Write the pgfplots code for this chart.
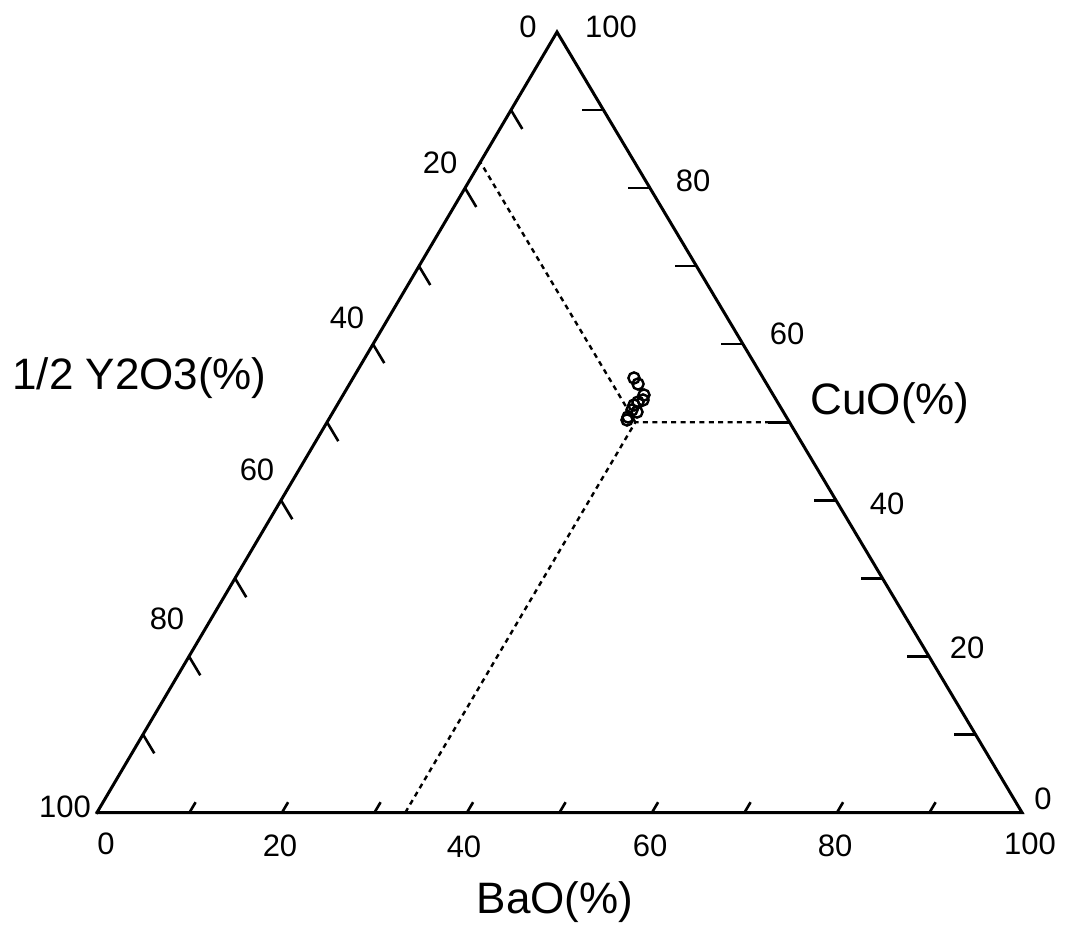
\documentclass[border=0pt]{standalone}
\usepackage{pgfplots}
\usepackage{pgfplotstable}
\pgfplotsset{compat=1.18}
\usepackage{fontspec}
\setmainfont{Liberation Sans}
\newcommand\ticklab{\fontsize{15.5pt}{18pt}\selectfont}
\newcommand\titlefont{\fontsize{22pt}{26pt}\selectfont}

% ternary compositions: b = BaO(%), c = CuO(%), 1/2 Y2O3 = 100-b-c
\pgfplotstableread[row sep=\\]{
b c\\
30.37 55.67\\
31.19 54.90\\
32.53 53.49\\
32.75 52.85\\
32.33 52.59\\
32.09 52.21\\
32.19 51.57\\
32.21 50.67\\
32.29 50.29\\
32.86 51.31\\
}\samples

\pgfplotsset{table/tern/.style={x expr={97+9.25*\thisrow{b}+4.6*\thisrow{c}}, y expr={812.5-7.805*\thisrow{c}}}}

\begin{document}
\begin{tikzpicture}
\begin{axis}[x=0.5pt,y=0.5pt,y dir=reverse,xmin=0,xmax=1066,ymin=0,ymax=925,
  hide axis,clip=false,scale only axis]
\path (axis cs:0,0) rectangle (axis cs:1066,925);
% triangle
\addplot[black,line width=1.5pt,line join=miter,line cap=rect,mark=none] table[tern,row sep=\\]{
b c\\
0 0\\
100 0\\
0 100\\
0 0\\
};
% ticks
\pgfplotsinvokeforeach{10,20,30,40,50,60,70,80,90}{
  \draw[black,line width=1.3pt] (axis cs:{97+9.25*#1},812.5) -- (axis cs:{97+9.25*#1+6.1},802.2);
  \draw[black,line width=1.3pt] (axis cs:{97+4.6*(100-#1)},{812.5-7.805*(100-#1)}) -- (axis cs:{97+4.6*(100-#1)+11.3},{812.5-7.805*(100-#1)+18.9});
  \draw[black,line width=1.3pt] (axis cs:{1022-4.65*#1},{812.5-7.805*#1}) -- (axis cs:{1022-4.65*#1-22},{812.5-7.805*#1});
}
% composition lines for 1:2:3
\addplot[black,line width=1.2pt,dash pattern=on 2.5pt off 2.2pt,mark=none] table[tern,row sep=\\]{
b c\\
33.333 0\\
33.333 50\\
50 50\\
};
\addplot[black,line width=1.2pt,dash pattern=on 2.5pt off 2.2pt,mark=none] table[tern,row sep=\\]{
b c\\
33.333 50\\
0 83.333\\
};
% samples
\addplot[only marks,mark=o,mark size=2.8pt,mark options={line width=1.2pt,black}] table[tern]{\samples};
% tick labels
\node[font=\ticklab] at (axis cs:106,844) {0};
\node[font=\ticklab] at (axis cs:280,846) {20};
\node[font=\ticklab] at (axis cs:464,847) {40};
\node[font=\ticklab] at (axis cs:650,846) {60};
\node[font=\ticklab] at (axis cs:835,846) {80};
\node[font=\ticklab] at (axis cs:1030,844) {100};
\node[font=\ticklab] at (axis cs:528,27) {0};
\node[font=\ticklab] at (axis cs:440,163) {20};
\node[font=\ticklab] at (axis cs:347,318) {40};
\node[font=\ticklab] at (axis cs:257,470) {60};
\node[font=\ticklab] at (axis cs:167,619) {80};
\node[font=\ticklab] at (axis cs:65,807) {100};
\node[font=\ticklab] at (axis cs:611,27) {100};
\node[font=\ticklab] at (axis cs:693,181) {80};
\node[font=\ticklab] at (axis cs:787,334) {60};
\node[font=\ticklab] at (axis cs:887,504) {40};
\node[font=\ticklab] at (axis cs:967,648) {20};
\node[font=\ticklab] at (axis cs:1043,799) {0};
% axis titles
\node[font=\titlefont,anchor=base] at (axis cs:555,913) {BaO(\%)};
\node[font=\titlefont,anchor=base] at (axis cs:139.5,390) {1/2 Y2O3(\%)};
\node[font=\titlefont,anchor=base] at (axis cs:890,415) {CuO(\%)};
\end{axis}
\end{tikzpicture}
\end{document}
